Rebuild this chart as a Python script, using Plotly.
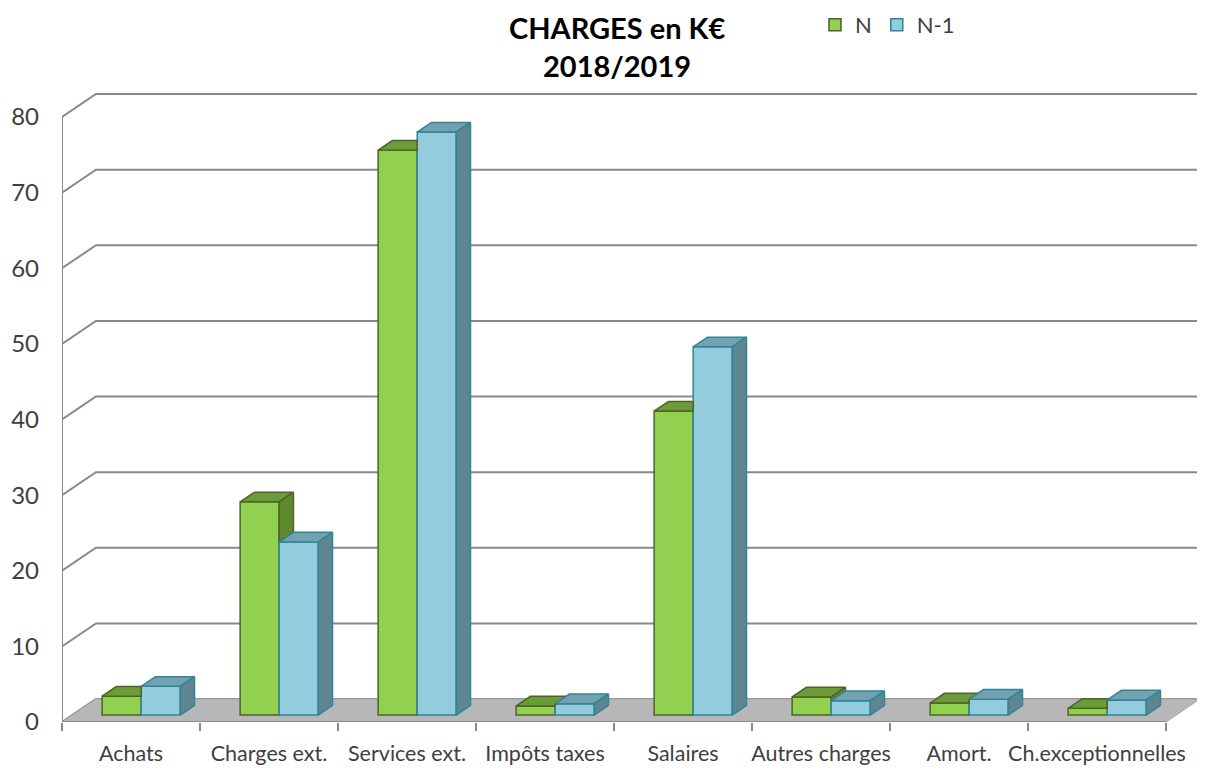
import plotly.graph_objects as go

# ---------------- data ----------------
categories = ["Achats", "Charges ext.", "Services ext.", "Impôts taxes",
              "Salaires", "Autres charges", "Amort.", "Ch.exceptionnelles"]
n_values = [2.5, 28.2, 74.7, 1.2, 40.2, 2.4, 1.6, 0.9]
n1_values = [3.8, 22.9, 77.1, 1.5, 48.7, 1.9, 2.1, 2.0]
y_ticks = [0, 10, 20, 30, 40, 50, 60, 70, 80]
series_names = ["N", "N-1"]
title_lines = ["CHARGES en K€", "2018/2019"]

# ---------------- styling / geometry ----------------
FONT = "Lato"
N_FRONT, N_TOP, N_SIDE, N_LINE = "#92D050", "#6C9C3A", "#5C8A2C", "#4F6228"
P_FRONT, P_TOP, P_SIDE, P_LINE = "#93CDDD", "#72A1AF", "#5D8690", "#31849B"
FLOOR = "#B7B7B7"
GRID = "#898989"

DX, DY = 0.246, 3.04          # depth of the 3D floor in axis units
F1, F2 = 0.30, 0.72           # depth fraction of bar front / back
W = 0.283                     # bar width
SHIFT = F1 * DX
B0 = F1 * DY
SX, SY = (F2 - F1) * DX, (F2 - F1) * DY

OFF = 8                        # page body margin
FIG_W, FIG_H = 1205 - OFF, 775 - OFF
ML, MR, MT, MB = 62 - OFF, 5, 90 - OFF, 53
PW, PH = FIG_W - ML - MR, FIG_H - MT - MB
PX_X, PX_Y = 138.0, 7.5625
XMIN = -0.5
XMAX = XMIN + PW / PX_X
YMAX = PH / PX_Y
ncat = len(categories)


def px_to_paper_x(px):
    return (px - OFF - ML) / PW


def px_to_paper_y(py):
    return 1 + (MT - (py - OFF)) / PH


def poly(points):
    xs = [p[0] for p in points] + [points[0][0], None]
    ys = [p[1] for p in points] + [points[0][1], None]
    return xs, ys


def top_poly(L, R, t):
    return [(L, t), (R, t), (R + SX, t + SY), (L + SX, t + SY)]


def side_poly(R, b, t):
    return [(R, b), (R, t), (R + SX, t + SY), (R + SX, b + SY)]


faces = {"n_top": ([], []), "n_side": ([], []), "p_top": ([], []), "p_side": ([], [])}


def add(key, pts):
    xs, ys = poly(pts)
    faces[key][0].extend(xs)
    faces[key][1].extend(ys)


for i in range(ncat):
    c = i + SHIFT
    L, R = c - W, c
    tN = B0 + n_values[i]
    t1 = B0 + n1_values[i]
    # N top (clipped by the N-1 bar standing in front of its back-right part)
    if t1 <= tN:
        add("n_top", top_poly(L, R, tN))
        add("n_side", side_poly(R, t1, tN))
    elif t1 >= tN + SY:
        add("n_top", [(L, tN), (R, tN), (R, tN + SY), (L + SX, tN + SY)])
    else:
        add("n_top", [(L, tN), (R, tN), (R, t1), (R + (t1 - tN) * SX / SY, t1),
                      (R + SX, tN + SY), (L + SX, tN + SY)])
    add("p_top", top_poly(c, c + W, t1))
    add("p_side", side_poly(c + W, B0, t1))

fig = go.Figure()
fig.add_trace(go.Bar(name=series_names[0], x=list(range(ncat)), y=n_values, base=B0,
                     width=W, offset=SHIFT - W,
                     marker=dict(color=N_FRONT, line=dict(color=N_LINE, width=1.5))))
fig.add_trace(go.Bar(name=series_names[1], x=list(range(ncat)), y=n1_values, base=B0,
                     width=W, offset=SHIFT,
                     marker=dict(color=P_FRONT, line=dict(color=P_LINE, width=1.5))))

for key, fill, line in [("n_top", N_TOP, N_LINE), ("n_side", N_SIDE, N_LINE),
                        ("p_top", P_TOP, P_LINE), ("p_side", P_SIDE, P_LINE)]:
    xs, ys = faces[key]
    fig.add_trace(go.Scatter(x=xs, y=ys, mode="lines", fill="toself", fillcolor=fill,
                             line=dict(color=line, width=1.5), showlegend=False,
                             hoverinfo="skip"))

shapes = []
# back-wall gridlines with left-wall diagonals
for v in y_ticks:
    shapes.append(dict(type="path", xref="x", yref="y", layer="below",
                       path=f"M {XMIN},{v} L {XMIN + DX},{v + DY} L {XMAX},{v + DY}",
                       line=dict(color=GRID, width=2)))
# floor
shapes.append(dict(type="path", xref="x", yref="y", layer="below",
                   path=f"M {XMIN},0 L {ncat - 0.5},0 L {ncat - 0.5 + DX},{DY} L {XMIN + DX},{DY} Z",
                   fillcolor=FLOOR, line=dict(color="#A6A6A6", width=1)))
# front axis lines
shapes.append(dict(type="line", xref="x", yref="y", layer="below",
                   x0=XMIN, y0=0, x1=ncat - 0.5, y1=0, line=dict(color=GRID, width=2)))
shapes.append(dict(type="line", xref="x", yref="y", layer="below",
                   x0=XMIN, y0=0, x1=XMIN, y1=y_ticks[-1], line=dict(color=GRID, width=2)))

annotations = []
for txt, ypx in zip(title_lines, [28, 65]):
    annotations.append(dict(text=f"<b>{txt}</b>", xref="paper", yref="paper",
                            x=px_to_paper_x(617), y=px_to_paper_y(ypx),
                            xanchor="center", yanchor="middle", showarrow=False,
                            font=dict(family=FONT, size=29, color="#000000")))

fig.update_layout(
    template="none",
    width=FIG_W, height=FIG_H,
    margin=dict(l=ML, r=MR, t=MT, b=MB, autoexpand=False),
    paper_bgcolor="white", plot_bgcolor="white",
    barmode="overlay",
    showlegend=True,
    legend=dict(orientation="h", x=px_to_paper_x(815), y=px_to_paper_y(25),
                xanchor="left", yanchor="middle",
                font=dict(family=FONT, size=22, color="#404040"),
                bgcolor="rgba(0,0,0,0)", traceorder="normal"),
    xaxis=dict(range=[XMIN, XMAX], tickmode="array", tickvals=list(range(ncat)),
               ticktext=categories, ticks="", showgrid=False, zeroline=False,
               showline=False, automargin=False, ticklabelstandoff=16,
               tickfont=dict(family=FONT, size=21.5, color="#404040"),
               minor=dict(tickmode="array", tickvals=[k - 0.5 for k in range(ncat + 1)],
                          ticks="outside", ticklen=8, tickcolor=GRID, tickwidth=2,
                          showgrid=False)),
    yaxis=dict(range=[0, YMAX], tickmode="array", tickvals=y_ticks, ticks="",
               showgrid=False, zeroline=False, showline=False, automargin=False,
               ticklabelstandoff=22,
               tickfont=dict(family=FONT, size=24, color="#404040")),
    shapes=shapes,
    annotations=annotations,
    font=dict(family=FONT),
)

fig.write_html("out.html")
